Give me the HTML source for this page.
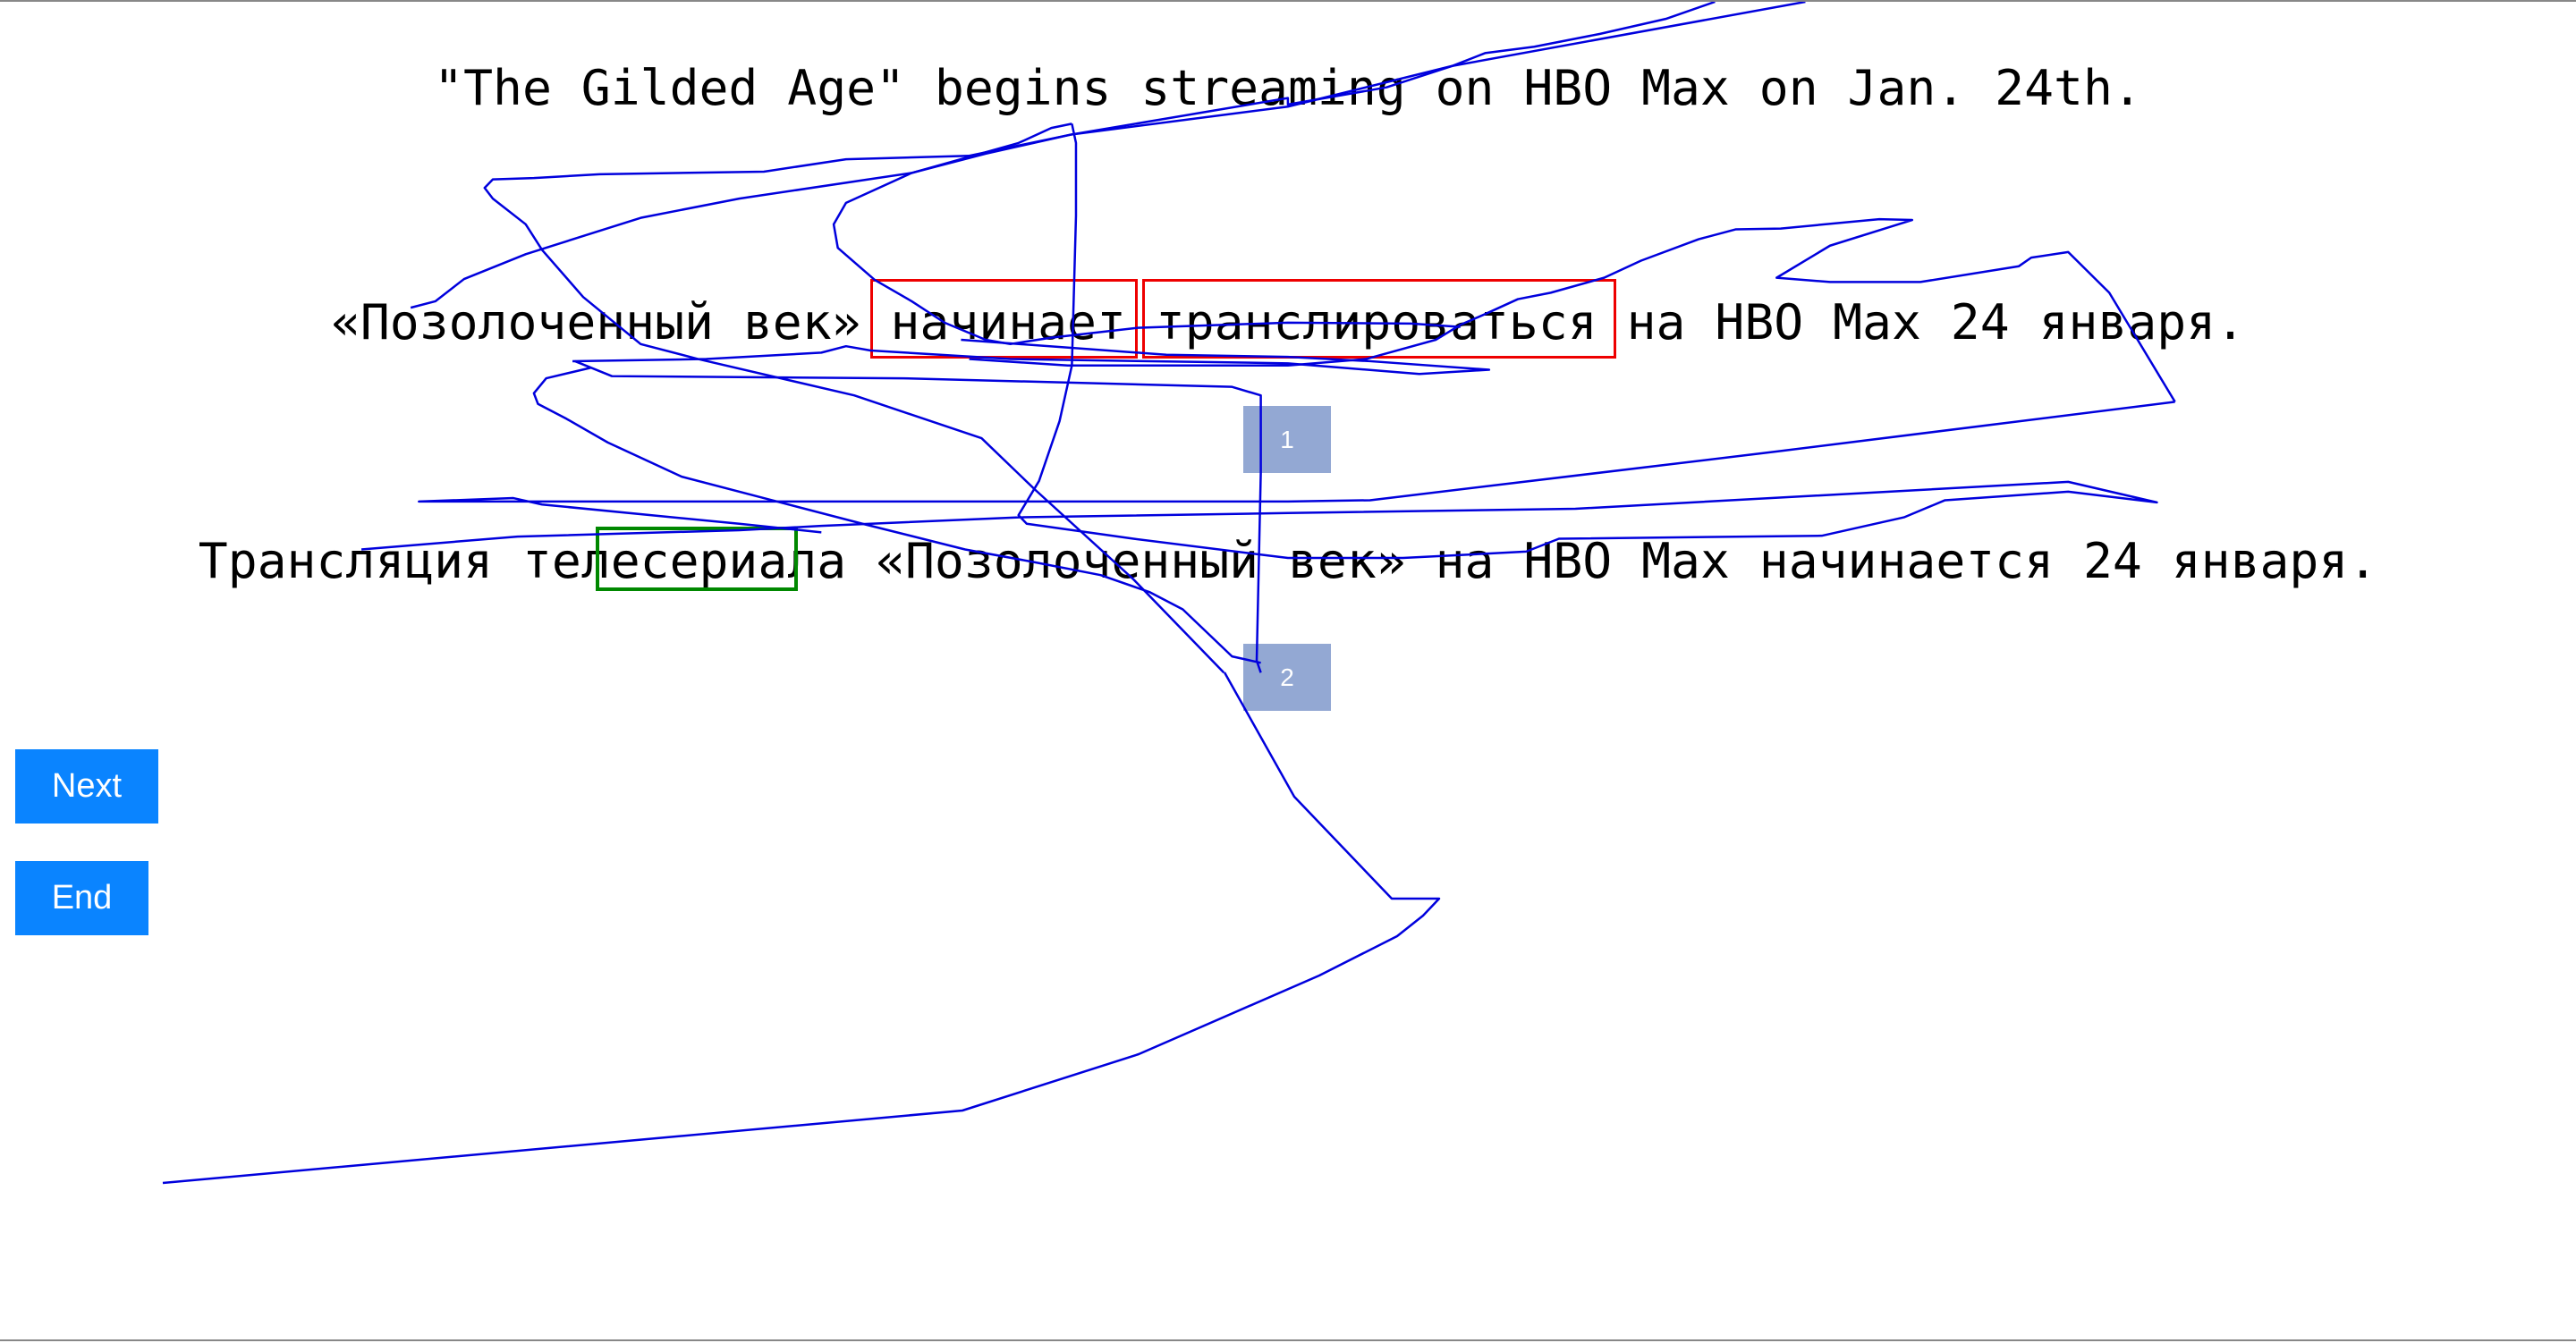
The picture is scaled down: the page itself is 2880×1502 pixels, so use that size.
<!DOCTYPE html>
<html><head><meta charset="utf-8"><style>
html,body{margin:0;padding:0;background:#fff;}
body{width:2880px;height:1500px;position:relative;overflow:hidden;border-top:2px solid #888;box-sizing:border-box;}
.t{position:absolute;left:0;width:2880px;text-align:center;font-family:"DejaVu Sans Mono","Liberation Mono",monospace;font-size:54.7px;color:#000;height:80px;line-height:80px;white-space:pre;}
.box{position:absolute;box-sizing:border-box;}
.g{position:absolute;background:#93a8d3;color:#fff;font-family:"Liberation Sans",sans-serif;font-size:28px;text-align:center;}
.btn{position:absolute;background:#0a84ff;color:#fff;font-family:"Liberation Sans",sans-serif;font-size:38px;text-align:center;}
</style></head><body>
<div class="t" style="top:56px">"The Gilded Age" begins streaming on HBO Max on Jan. 24th.</div>
<div class="t" style="top:318px">«Позолоченный век» начинает транслироваться на HBO Max 24 января.</div>
<div class="t" style="top:585px">Трансляция телесериала «Позолоченный век» на HBO Max начинается 24 января.</div>
<div class="box" style="left:973px;top:310px;width:299px;height:89px;border:3px solid #e00;"></div>
<div class="box" style="left:1277px;top:310px;width:530px;height:89px;border:3px solid #e00;"></div>
<div class="box" style="left:666px;top:587px;width:226px;height:72px;border:4px solid #080;"></div>
<div class="g" style="left:1390px;top:452px;width:98px;height:75px;line-height:75px;">1</div>
<div class="g" style="left:1390px;top:718px;width:98px;height:75px;line-height:75px;">2</div>
<div class="btn" style="left:17px;top:836px;width:160px;height:83px;line-height:83px;">Next</div>
<div class="btn" style="left:17px;top:961px;width:149px;height:83px;line-height:83px;">End</div>
<div style="position:absolute;left:0;top:1496px;width:2880px;height:2px;background:#888"></div>
<svg style="position:absolute;left:0;top:0" width="2880" height="1500" viewBox="0 0 2880 1500">
<g fill="none" stroke="#0000dd" stroke-width="2.5" stroke-linejoin="round">
<g transform="scale(0.9183,0.4785)">
<polyline vector-effect="non-scaling-stroke" points="500,715 530,700 565,648 640,590 780,505 900,460 1110,400 1200,355 1305,310 1460,260 1568,225 1568,240 1688,200 1768,150 1808,120 1868,105 1948,75 2028,40 2088,0"/>
<polyline vector-effect="non-scaling-stroke" points="1180,360 1305,310 1568,245 1768,150 2198,0"/>
<polyline vector-effect="non-scaling-stroke" points="1180,360 1030,368 930,397 730,403 650,412 600,415 590,435 600,460 640,520 660,580 710,690 780,800 850,835 1040,920 1195,1020 1260,1140 1380,1350 1490,1568"/>
<polyline vector-effect="non-scaling-stroke" points="1305,285 1310,330 1310,500 1305,850 1290,980 1265,1120 1240,1200 1250,1220 1380,1255 1568,1300 1708,1300 1858,1285 1898,1255 2218,1248 2318,1205 2343,1185 2368,1165 2518,1145 2626,1170 2518,1122 1918,1185 1568,1195 1240,1205 1000,1225 900,1235 630,1250 440,1280"/>
<polyline vector-effect="non-scaling-stroke" points="1305,285 1280,295 1240,330 1110,400 1030,470 1015,520 1020,575 1065,650 1110,700 1150,750 1200,790 1230,800 1280,785 1385,762 1568,750 1718,752 1778,760"/>
<polyline vector-effect="non-scaling-stroke" points="697,840 860,835 1000,820 1030,805 1060,815 1230,835 1568,845 1728,870 1813,860 1668,840 1568,830 1420,825 1170,790"/>
<polyline vector-effect="non-scaling-stroke" points="2648,935 2568,680 2518,585 2473,598 2458,618 2338,655 2228,655 2163,645 2228,570 2328,510 2288,508 2168,530 2113,532 2068,555 1998,605 1953,645 1888,680 1848,695 1808,730 1778,755 1748,790 1663,835 1568,850 1300,850 1180,835"/>
<polyline vector-effect="non-scaling-stroke" points="2648,935 2168,1050 1668,1165 1568,1168 510,1168 625,1160 660,1175 900,1220 1000,1240"/>
<polyline vector-effect="non-scaling-stroke" points="700,840 745,875 1100,880 1500,900 1535,920 1535,1100 1530,1540 1535,1568"/>
<polyline vector-effect="non-scaling-stroke" points="720,855 665,880 650,915 655,940 690,975 740,1030 830,1110 930,1160 1050,1220 1175,1280 1260,1310 1340,1340 1400,1380 1440,1420 1500,1530 1535,1545"/>
</g>
<polyline points="1369,750 1447,889 1556,1003 1609,1003 1591,1022 1562,1045 1475,1089 1273,1177 1076,1240 182,1321"/>
</g></svg>
</body></html>
